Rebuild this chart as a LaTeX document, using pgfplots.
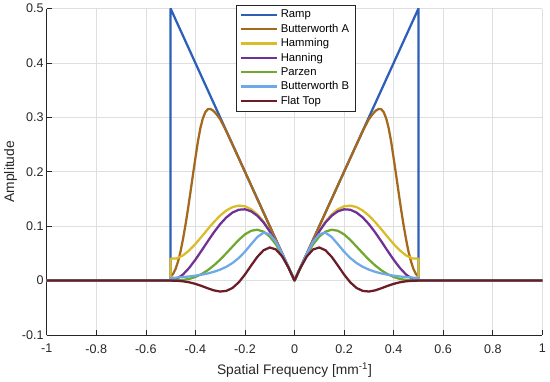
\documentclass[border=0pt]{standalone}
\usepackage{pgfplots}
\pgfplotsset{compat=1.18}
\usepackage{pgfplotstable}
\usepackage{fontspec}
\setmainfont{Liberation Sans}
\definecolor{cramp}{RGB}{45,95,185}
\definecolor{cbwa}{RGB}{165,105,30}
\definecolor{cham}{RGB}{218,188,40}
\definecolor{chan}{RGB}{112,48,150}
\definecolor{cpar}{RGB}{112,168,48}
\definecolor{cbwb}{RGB}{110,168,230}
\definecolor{cft}{RGB}{108,28,38}
\definecolor{axgray}{RGB}{38,38,38}

\pgfplotstableread{
f ramp ham han par bwb ft
-1 0 0 0 0 0 0
-0.5 0 0 0 0 0 0
-0.5 0.5 0.04 0 0 0.00458 -0.0002
-0.475 0.475 0.04069 0.00292 0.00012 0.00532 -0.00051
-0.45 0.45 0.04612 0.0110 0.0009 0.00625 -0.0015
-0.425 0.425 0.05531 0.02316 0.00287 0.00739 -0.00335
-0.4 0.4 0.06714 0.0382 0.0064 0.00882 -0.00624
-0.375 0.375 0.08052 0.05492 0.01172 0.01064 -0.01008
-0.35 0.35 0.09436 0.07214 0.0189 0.01296 -0.01439
-0.325 0.325 0.10763 0.08873 0.02787 0.01599 -0.01825
-0.3 0.3 0.11936 0.10365 0.0384 0.01996 -0.02031
-0.275 0.275 0.12872 0.1160 0.05012 0.02521 -0.01917
-0.25 0.25 0.135 0.125 0.0625 0.03218 -0.01368
-0.225 0.225 0.13769 0.1301 0.07464 0.04136 -0.00343
-0.2 0.2 0.13643 0.1309 0.0848 0.05302 0.01091
-0.175 0.175 0.13105 0.12723 0.09139 0.06667 0.02749
-0.15 0.15 0.12156 0.11909 0.0933 0.07991 0.04345
-0.125 0.125 0.10816 0.10669 0.08984 0.08785 0.05552
-0.1 0.1 0.09121 0.09045 0.0808 0.08523 0.06069
-0.075 0.075 0.07124 0.07091 0.06639 0.0711 0.05705
-0.05 0.05 0.04888 0.04878 0.0473 0.04946 0.04437
-0.025 0.025 0.02486 0.02485 0.02464 0.02498 0.02427
0 0 0 0 0 0 0
0.025 0.025 0.02486 0.02485 0.02464 0.02498 0.02427
0.05 0.05 0.04888 0.04878 0.0473 0.04946 0.04437
0.075 0.075 0.07124 0.07091 0.06639 0.0711 0.05705
0.1 0.1 0.09121 0.09045 0.0808 0.08523 0.06069
0.125 0.125 0.10816 0.10669 0.08984 0.08785 0.05552
0.15 0.15 0.12156 0.11909 0.0933 0.07991 0.04345
0.175 0.175 0.13105 0.12723 0.09139 0.06667 0.02749
0.2 0.2 0.13643 0.1309 0.0848 0.05302 0.01091
0.225 0.225 0.13769 0.1301 0.07464 0.04136 -0.00343
0.25 0.25 0.135 0.125 0.0625 0.03218 -0.01368
0.275 0.275 0.12872 0.1160 0.05012 0.02521 -0.01917
0.3 0.3 0.11936 0.10365 0.0384 0.01996 -0.02031
0.325 0.325 0.10763 0.08873 0.02787 0.01599 -0.01825
0.35 0.35 0.09436 0.07214 0.0189 0.01296 -0.01439
0.375 0.375 0.08052 0.05492 0.01172 0.01064 -0.01008
0.4 0.4 0.06714 0.0382 0.0064 0.00882 -0.00624
0.425 0.425 0.05531 0.02316 0.00287 0.00739 -0.00335
0.45 0.45 0.04612 0.0110 0.0009 0.00625 -0.0015
0.475 0.475 0.04069 0.00292 0.00012 0.00532 -0.00051
0.5 0.5 0.04 0 0 0.00458 -0.0002
0.5 0 0 0 0 0 0
1 0 0 0 0 0 0
}\maintab

\pgfplotstableread{
f bwa
-1 0
-0.5 0
-0.5 0.007
-0.49 0.012
-0.48 0.021
-0.47 0.035
-0.46 0.053
-0.45 0.076
-0.44 0.102
-0.43 0.131
-0.42 0.162
-0.41 0.194
-0.40 0.225
-0.39 0.255
-0.38 0.280
-0.37 0.298
-0.36 0.3095
-0.35 0.315
-0.34 0.3155
-0.33 0.313
-0.32 0.3085
-0.31 0.303
-0.3 0.2965
-0.28 0.2790
-0.25 0.2497
-0.2 0.2
-0.1 0.1
0 0
0.1 0.1
0.2 0.2
0.25 0.2497
0.28 0.2790
0.3 0.2965
0.31 0.303
0.32 0.3085
0.33 0.313
0.34 0.3155
0.35 0.315
0.36 0.3095
0.37 0.298
0.38 0.280
0.39 0.255
0.40 0.225
0.41 0.194
0.42 0.162
0.43 0.131
0.44 0.102
0.45 0.076
0.46 0.053
0.47 0.035
0.48 0.021
0.49 0.012
0.5 0.007
0.5 0
1 0
}\bwatab

\begin{document}
\begin{tikzpicture}
\begin{axis}[
  scale only axis,
  width=395pt, height=260pt,
  xmin=-1, xmax=1, ymin=-0.1, ymax=0.5,
  xtick={-1,-0.8,-0.6,-0.4,-0.2,0,0.2,0.4,0.6,0.8,1},
  ytick={-0.1,0,0.1,0.2,0.3,0.4,0.5},
  xticklabels={-1,-0.8,-0.6,-0.4,-0.2,0,0.2,0.4,0.6,0.8,1},
  yticklabels={-0.1,0,0.1,0.2,0.3,0.4,0.5},
  axis x line*=bottom, axis y line*=left,
  axis line style={axgray, line width=0.5pt},
  tick style={axgray, line width=0.5pt},
  major tick length=4pt,
  tick align=inside,
  grid=major,
  major grid style={gray!25, line width=0.5pt},
  tick label style={font=\fontsize{10}{12}\selectfont, text=axgray},
  xticklabel style={yshift=-4pt},
  yticklabel style={xshift=1pt},
  label style={font=\fontsize{11}{13}\selectfont, text=axgray},
  xlabel={Spatial Frequency [mm\textsuperscript{-1}]},
  ylabel={Amplitude},
  ylabel shift=-3pt,
  xlabel shift=1pt,
  every axis plot/.append style={line width=1.8pt, line join=round},
  legend style={at={(0.503,1.012)}, anchor=north, draw=axgray, line width=0.5pt,
    font=\fontsize{9}{10}\selectfont, row sep=-0.5pt, inner xsep=3pt, inner ysep=2pt},
  legend cell align=left,
  legend image code/.code={\draw[#1] (0cm,0cm) -- (1.0cm,0cm);},
]
\addplot[cramp] table[x=f, y=ramp] {\maintab};
\addlegendentry{Ramp}
\addplot[cbwa] table[x=f, y=bwa] {\bwatab};
\addlegendentry{Butterworth A}
\addplot[cham] table[x=f, y=ham] {\maintab};
\addlegendentry{Hamming}
\addplot[chan] table[x=f, y=han] {\maintab};
\addlegendentry{Hanning}
\addplot[cpar] table[x=f, y=par] {\maintab};
\addlegendentry{Parzen}
\addplot[cbwb] table[x=f, y=bwb] {\maintab};
\addlegendentry{Butterworth B}
\addplot[cft] table[x=f, y=ft] {\maintab};
\addlegendentry{Flat Top}
\end{axis}
\end{tikzpicture}
\end{document}
